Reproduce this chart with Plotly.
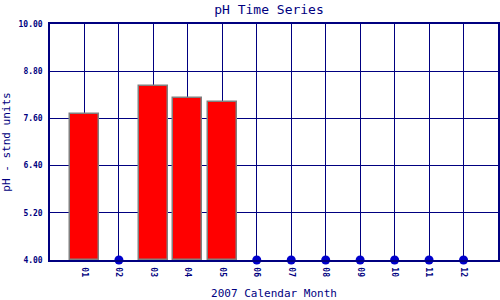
import plotly.graph_objects as go

months = ["01", "02", "03", "04", "05", "06", "07", "08", "09", "10", "11", "12"]
ph_values = [7.71, None, 8.42, 8.11, 8.01, None, None, None, None, None, None, None]
y_ticks = [4.00, 5.20, 6.40, 7.60, 8.80, 10.00]

navy = "#000080"
font = "DejaVu Sans Mono"

xpos = list(range(1, len(months) + 1))
ymin, ymax = y_ticks[0], y_ticks[-1]

bar_x = [x for x, v in zip(xpos, ph_values) if v is not None]
bar_base = [ymin for v in ph_values if v is not None]
bar_h = [v - ymin for v in ph_values if v is not None]
miss_x = [x for x, v in zip(xpos, ph_values) if v is None]
miss_y = [ymin for v in ph_values if v is None]

fig = go.Figure()
fig.add_trace(go.Bar(x=bar_x, y=bar_h, base=bar_base, width=0.85,
                     marker=dict(color="#ff0000", line=dict(color="#808080", width=1.5)),
                     showlegend=False))
fig.add_trace(go.Scatter(x=miss_x, y=miss_y, mode="markers",
                         marker=dict(color="#0000cc", size=9),
                         cliponaxis=False, showlegend=False))

fig.update_layout(
    width=500, height=300,
    margin=dict(l=50, r=0, t=24, b=40),
    paper_bgcolor="white", plot_bgcolor="white",
    bargap=0,
    title=dict(text="pH Time Series", x=0.538, xanchor="center", y=0.97, yanchor="middle",
               font=dict(family=font, size=13, color=navy)),
    xaxis=dict(range=[0, len(months) + 1], tickvals=xpos, ticktext=months, tickangle=90,
               showgrid=True, gridcolor=navy, gridwidth=1,
               showline=True, linecolor=navy, linewidth=1.5, mirror=True,
               ticks="", ticklabelstandoff=4,
               tickfont=dict(family=font, size=8, color=navy, weight="bold"),
               title=dict(text="2007 Calendar Month", standoff=14,
                          font=dict(family=font, size=11, color=navy)),
               zeroline=False),
    yaxis=dict(range=[ymin, ymax], tickvals=y_ticks, ticktext=[f"{t:.2f}" for t in y_ticks],
               showgrid=True, gridcolor=navy, gridwidth=1,
               showline=True, linecolor=navy, linewidth=1.5, mirror=True,
               ticks="", ticklabelstandoff=4,
               tickfont=dict(family=font, size=8, color=navy, weight="bold"),
               title=dict(text="pH - stnd units", standoff=6,
                          font=dict(family=font, size=11, color=navy)),
               zeroline=False),
)

fig.write_html("out.html")
